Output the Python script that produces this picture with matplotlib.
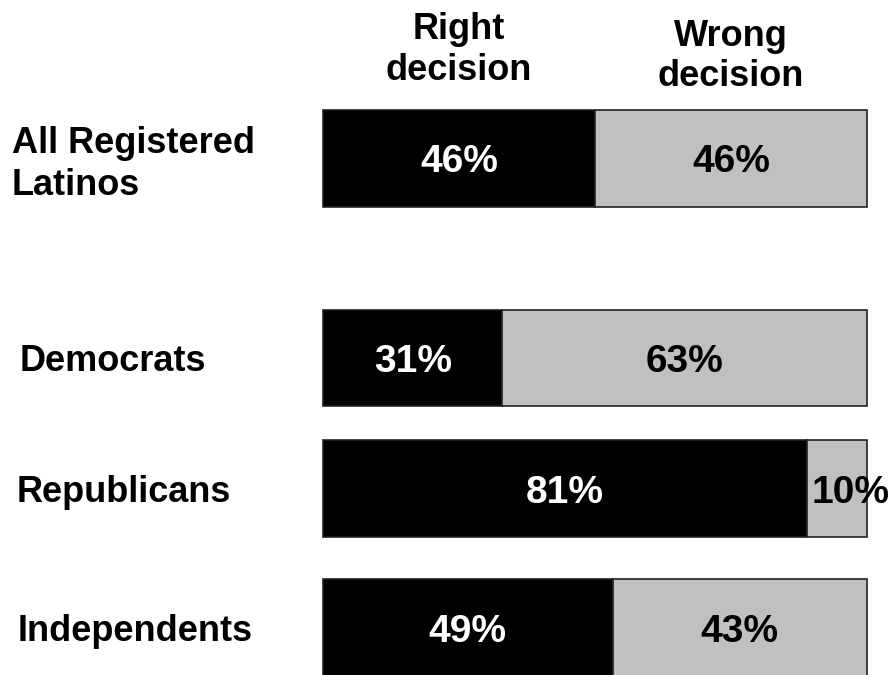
import matplotlib
matplotlib.use("Agg")
import matplotlib.pyplot as plt
import matplotlib.transforms as mtransforms

categories = ["All Registered\nLatinos", "Democrats", "Republicans", "Independents"]
right_decision = [46, 31, 81, 49]
wrong_decision = [46, 63, 10, 43]
series_names = ["Right\ndecision", "Wrong\ndecision"]

# layout (positions only)
y_pos = [0, 1.53, 2.53, 3.595]
bar_h = 0.74
label_x = [12, 20, 17, 18]  # pixels from left

plt.rcParams['font.family'] = ['Liberation Sans', 'DejaVu Sans']

W, H = 893, 675
fig = plt.figure(figsize=(W / 100, H / 100), dpi=100)
ax_left, ax_right = 323, 867
ax = fig.add_axes([ax_left / W, 0, (ax_right - ax_left) / W, 1])
unit = 130.5
y0 = 158.5
ax.set_ylim((H - y0) / unit, -y0 / unit)
ax.set_xlim(0, 100)
ax.axis('off')

VFS = 28
CAP = 0.716


def centered_label(x, y, s, color, ha='center', fs=VFS, transform=None):
    kw = {}
    ax.annotate(s, xy=(x, y), xycoords=transform if transform is not None else 'data',
                xytext=(0, -CAP * fs / 2), textcoords='offset points',
                ha=ha, va='baseline', color=color, fontsize=fs,
                fontweight='bold', annotation_clip=False)


for i, (r, w) in enumerate(zip(right_decision, wrong_decision)):
    tot = r + w
    rw = r / tot * 100
    ww = w / tot * 100
    ax.barh(y_pos[i], rw, height=bar_h, left=0, color='black',
            edgecolor='#222222', linewidth=1.2, clip_on=False)
    ax.barh(y_pos[i], ww, height=bar_h, left=rw, color='#c0c0c0',
            edgecolor='#222222', linewidth=1.2, clip_on=False)
    centered_label(rw / 2, y_pos[i], f"{r}%", 'white')
    if ww < 15:
        centered_label(rw + 0.8, y_pos[i], f"{w}%", 'black', ha='left')
    else:
        centered_label(rw + ww / 2, y_pos[i], f"{w}%", 'black')

# category labels
trans = mtransforms.blended_transform_factory(fig.transFigure, ax.transData)
for i, c in enumerate(categories):
    if "\n" in c:
        ax.text(label_x[i] / W, y_pos[i] + 0.045, c, transform=trans, ha='left',
                va='center', fontsize=26, fontweight='bold', linespacing=1.25)
    else:
        centered_label(label_x[i] / W, y_pos[i], c, 'black', ha='left', fs=26,
                       transform=trans)

# series headers centered over first bar's segments
r0, w0 = right_decision[0], wrong_decision[0]
t0 = r0 + w0
ax.text(r0 / t0 * 50, y_pos[0] - 0.83, series_names[0], ha='center', va='center',
        fontsize=26, fontweight='bold', linespacing=1.2)
ax.text(r0 / t0 * 100 + w0 / t0 * 50, y_pos[0] - 0.78, series_names[1], ha='center',
        va='center', fontsize=26, fontweight='bold', linespacing=1.2)

fig.savefig("out.png", dpi=100, facecolor='white')
